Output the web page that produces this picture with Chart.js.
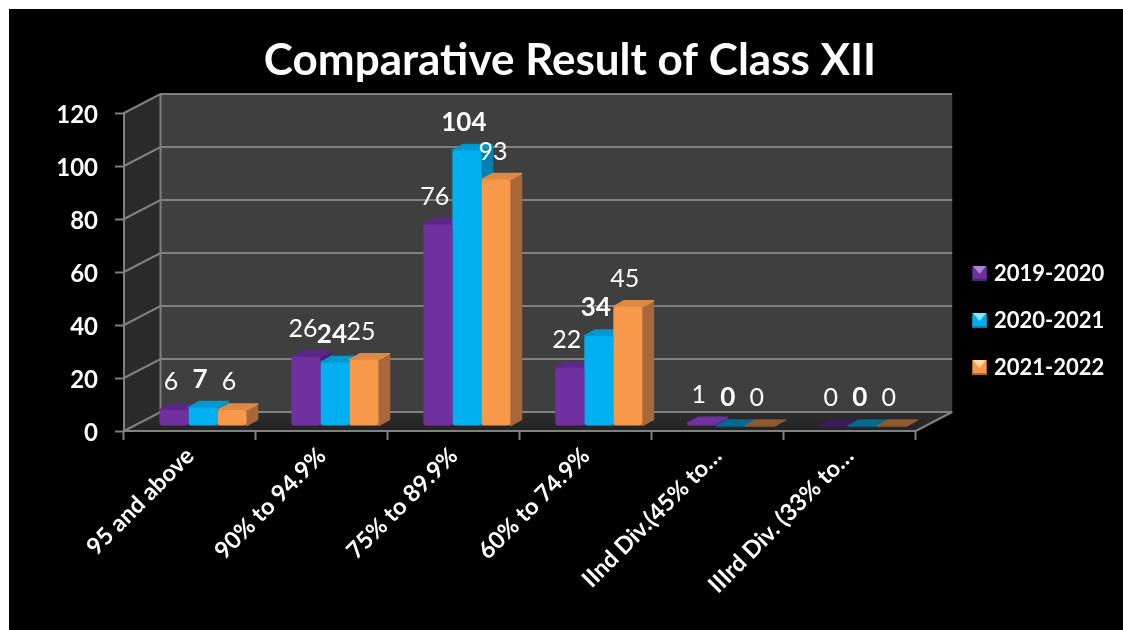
<!DOCTYPE html>
<html>
<head>
<meta charset="utf-8">
<style>html,body{margin:0;padding:0;background:#fff}canvas{display:block}</style>
<script src="https://cdn.jsdelivr.net/npm/chart.js@4/dist/chart.umd.min.js"></script>
</head>
<body>
<div style="position:relative;width:1123px;height:630px"><canvas id="c" width="1123" height="630"></canvas></div>
<script>
const categories = ["95 and above","90% to 94.9%","75% to 89.9%","60% to 74.9%","IInd Div.(45% to…","IIIrd Div. (33% to…"];
const seriesNames = ["2019-2020","2020-2021","2021-2022"];
const values2019 = [6,26,76,22,1,0];
const values2020 = [7,24,104,34,0,0];
const values2021 = [6,25,93,45,0,0];
const yTicks = [0,20,40,60,80,100,120];
const titleText = "Comparative Result of Class XII";

const FONT = "Lato, Carlito, Calibri, sans-serif";
const front = ["#7030A0","#00B0F0","#F8984A"];
const side  = ["#4A2070","#0080AE","#A9683A"];
const top_  = ["#5C2888","#0098D0","#DC8A44"];
const zeroTop = ["#3E1A5E","#006A90","#8E5A2E"];
const wall = {dx:36.5, dy:-19};
const barPlane = {dx:13, dy:-5};
const bar3d = {dx:11, dy:-6};

function icon(c, s, t){
  const cv = document.createElement('canvas'); cv.width = 15; cv.height = 15;
  const g = cv.getContext('2d');
  g.fillStyle = c; g.fillRect(0,0,15,15);
  g.fillStyle = s; g.fillRect(0,13,15,2); g.fillRect(0,0,1,15); g.fillRect(14,0,1,15);
  g.fillStyle = t; g.beginPath(); g.moveTo(1,0); g.lineTo(14,0); g.lineTo(7.5,8); g.closePath(); g.fill();
  return cv;
}
const icons = [icon(front[0],side[0],"#A98AC8"), icon(front[1],side[1],"#8CE4FF"), icon(front[2],side[2],"#FFD9A0")];

const scene = {
  id:'scene',
  afterLayout(chart){
    const l = chart.legend, t = chart.titleBlock;
    const w = l.right - l.left, h = l.bottom - l.top;
    l.left = 976 - l.options.labels.padding; l.right = l.left + w;
    l.top = 262.5 - l.options.labels.padding; l.bottom = l.top + h;
    t.left = 0; t.right = 1140;
    const s = chart.scales.y;
    if(!s._shifted){
      s._shifted = true;
      const orig = s.drawLabels.bind(s);
      s.drawLabels = (ca)=>{ chart.ctx.save(); chart.ctx.translate(0,2); orig(ca); chart.ctx.restore(); };
    }
  },
  beforeDraw(chart){
    const {ctx, chartArea:a, scales:{y}} = chart;
    ctx.save();
    ctx.fillStyle = '#000'; ctx.fillRect(9,9,1114,621);
    const y0 = y.getPixelForValue(0), yT = y.getPixelForValue(120);
    const L = a.left, R = a.right, dx = wall.dx, dy = wall.dy;
    ctx.fillStyle = '#3F3F3F'; ctx.fillRect(L+dx, yT+dy, R-L, y0-yT);
    ctx.fillStyle = '#2A2A2A'; ctx.beginPath();
    ctx.moveTo(L,yT); ctx.lineTo(L+dx,yT+dy); ctx.lineTo(L+dx,y0+dy); ctx.lineTo(L,y0); ctx.closePath(); ctx.fill();
    const fl = ctx.createLinearGradient(0,y0+dy,0,y0);
    fl.addColorStop(0,'#2E2E2E'); fl.addColorStop(1,'#232323');
    ctx.fillStyle = fl; ctx.beginPath();
    ctx.moveTo(L,y0); ctx.lineTo(L+dx,y0+dy); ctx.lineTo(R+dx,y0+dy); ctx.lineTo(R,y0); ctx.closePath(); ctx.fill();
    ctx.strokeStyle = '#808080'; ctx.lineWidth = 2;
    yTicks.forEach(v=>{
      const p = y.getPixelForValue(v);
      ctx.beginPath(); ctx.moveTo(L,p); ctx.lineTo(L+dx,p+dy); ctx.lineTo(R+dx,p+dy); ctx.stroke();
    });
    ctx.beginPath(); ctx.moveTo(L+dx,y0+dy); ctx.lineTo(L+dx,yT+dy); ctx.stroke();
    ctx.beginPath(); ctx.moveTo(R,y0); ctx.lineTo(R+dx,y0+dy); ctx.stroke();
    ctx.restore();
  },
  beforeDatasetsDraw(chart){
    const ctx = chart.ctx;
    ctx.save();
    ctx.translate(barPlane.dx, barPlane.dy);
    ctx.lineJoin = 'round'; ctx.lineWidth = 1.5;
    const n = categories.length;
    for(let i=0;i<n;i++){
      chart.data.datasets.forEach((ds,si)=>{
        const b = chart.getDatasetMeta(si).data[i];
        const xl = b.x-b.width/2, xr = b.x+b.width/2, yt = b.y, yb = b.base;
        const dx = bar3d.dx, dy = bar3d.dy;
        if(ds.data[i]>0){
          ctx.fillStyle = ctx.strokeStyle = side[si]; ctx.beginPath();
          ctx.moveTo(xr,yt); ctx.lineTo(xr+dx,yt+dy); ctx.lineTo(xr+dx,yb+dy); ctx.lineTo(xr,yb); ctx.closePath(); ctx.fill(); ctx.stroke();
        }
        const small = ds.data[i]===0;
        ctx.fillStyle = ctx.strokeStyle = small ? zeroTop[si] : (ds.data[i]===1 ? front[si] : top_[si]);
        ctx.beginPath();
        ctx.moveTo(xl,yt); ctx.lineTo(xl+dx,yt+dy); ctx.lineTo(xr+dx,yt+dy); ctx.lineTo(xr,yt); ctx.closePath(); ctx.fill(); ctx.stroke();
      });
    }
  },
  afterDatasetsDraw(chart){
    const ctx = chart.ctx;
    ctx.fillStyle = '#fff'; ctx.textAlign = 'center'; ctx.textBaseline = 'middle';
    chart.data.datasets.forEach((ds,si)=>{
      ctx.font = (si===1?'bold 26px ':'25px ') + FONT;
      chart.getDatasetMeta(si).data.forEach((b,i)=>{
        ctx.fillText(String(ds.data[i]), b.x-3, b.y-28);
      });
    });
    ctx.restore();
  }
};

new Chart(document.getElementById('c'),{
  type:'bar',
  data:{
    labels:categories,
    datasets:[values2019,values2020,values2021].map((d,i)=>({
      label:seriesNames[i], data:d, backgroundColor:front[i],
      borderRadius:3, borderSkipped:false, clip:false
    }))
  },
  options:{
    responsive:false, animation:false, devicePixelRatio:1,
    categoryPercentage:0.66, barPercentage:1,
    layout:{padding:{left:0,right:44,top:0,bottom:0}},
    plugins:{
      title:{display:true,text:titleText,color:'#fff',align:'center',
        font:{family:FONT,size:44,weight:'bold'},padding:{top:34.6,bottom:25.6}},
      legend:{position:'right',align:'start',
        labels:{color:'#fff',font:{family:FONT,size:22,weight:'bold'},usePointStyle:true,pointStyleWidth:7,padding:25,
          generateLabels(chart){
            return seriesNames.map((t,i)=>({text:t,fontColor:'#fff',pointStyle:icons[i],datasetIndex:i,lineWidth:0,hidden:false,strokeStyle:'transparent',fillStyle:front[i]}));
          }}
      },
      tooltip:{enabled:false}
    },
    scales:{
      x:{
        grid:{drawOnChartArea:false,drawTicks:true,tickLength:9,tickColor:'#808080',tickWidth:2,offset:true},
        border:{color:'#808080',width:2},
        ticks:{color:'#fff',maxRotation:45,minRotation:45,autoSkip:false,padding:2,font:{family:FONT,size:23.5,weight:'bold'}},
        afterFit(s){s.height=199;}
      },
      y:{
        min:0,max:120,
        afterBuildTicks(s){s.ticks=yTicks.map(v=>({value:v}));},
        grid:{drawOnChartArea:false,drawTicks:true,tickLength:9,tickColor:'#808080',tickWidth:2},
        border:{color:'#808080',width:2},
        ticks:{color:'#fff',padding:17,font:{family:FONT,size:24,weight:'bold'}},
        afterFit(s){s.width=124;}
      }
    }
  },
  plugins:[scene]
});
</script>
</body>
</html>
